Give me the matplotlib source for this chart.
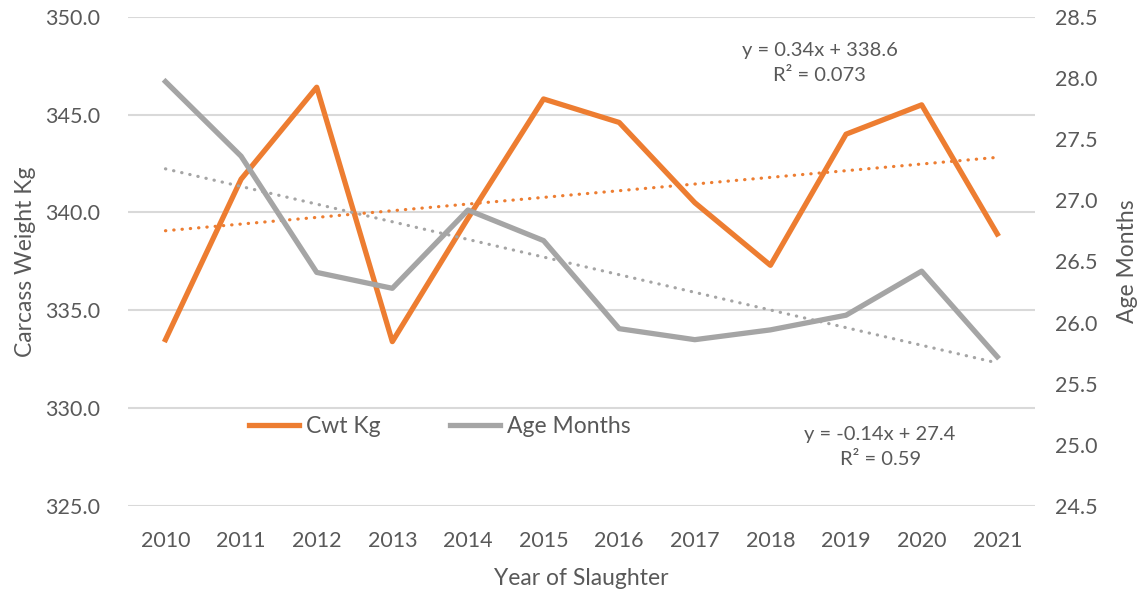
import numpy as np
import matplotlib.pyplot as plt

plt.rcParams['font.family'] = ['Lato', 'DejaVu Sans']

years = ['2010', '2011', '2012', '2013', '2014', '2015',
         '2016', '2017', '2018', '2019', '2020', '2021']
cwt_kg = [333.5, 341.7, 346.4, 333.4, 339.7, 345.8,
          344.6, 340.5, 337.3, 344.0, 345.5, 338.9]
age_months = [27.97, 27.36, 26.41, 26.28, 26.92, 26.67,
              25.95, 25.86, 25.94, 26.06, 26.42, 25.72]
eq_cwt = 'y = 0.34x + 338.6\nR² = 0.073'
eq_age = 'y = -0.14x + 27.4\nR² = 0.59'

orange = '#ED7D31'
grey = '#A5A5A5'
txt = '#595959'

fig = plt.figure(figsize=(11.45, 5.93), dpi=100)
ax = fig.add_axes([0.1115, 0.1467, 0.7925, 0.825])
ax2 = ax.twinx()

x = np.arange(len(years))

# trend lines (linear fit, like Excel)
p1 = np.polyfit(x, cwt_kg, 1)
p2 = np.polyfit(x, age_months, 1)
dots = (0, (0.1, 2.5))
ax.plot(x, np.polyval(p1, x), color=orange, lw=2.3, ls=dots,
        dash_capstyle='round', zorder=2)
ax2.plot(x, np.polyval(p2, x), color=grey, lw=2.3, ls=dots,
         dash_capstyle='round', zorder=2)

l1, = ax.plot(x, cwt_kg, color=orange, lw=3.8, label='Cwt Kg', zorder=3)
l2, = ax2.plot(x, age_months, color=grey, lw=3.8, label='Age Months', zorder=3)

ax.set_xlim(-0.5, 11.5)
ax.set_ylim(325, 350)
ax.set_yticks(np.arange(325, 350.1, 5))
ax.set_yticklabels(['%.1f' % v for v in np.arange(325, 350.1, 5)])
ax2.set_ylim(24.5, 28.5)
ax2.set_yticks(np.arange(24.5, 28.51, 0.5))
ax2.set_yticklabels(['%.1f' % v for v in np.arange(24.5, 28.51, 0.5)])
ax.set_xticks(x)
ax.set_xticklabels(years)

ax.grid(axis='y', color='#D9D9D9', lw=1.5)
ax.set_axisbelow(True)
for a in (ax, ax2):
    for s in a.spines.values():
        s.set_visible(False)
    a.tick_params(length=0, colors=txt, labelsize=15.5)
ax.tick_params(axis='y', pad=20)
ax.tick_params(axis='x', pad=18)
ax2.tick_params(axis='y', pad=14)

ax.set_xlabel('Year of Slaughter', fontsize=16.5, color=txt, labelpad=12)
ax.set_ylabel('Carcass Weight Kg', fontsize=16.5, color=txt, labelpad=6)
ax2.set_ylabel('Age Months', fontsize=16.5, color=txt, labelpad=14)

ax.text(8.65, 347.65, eq_cwt, ha='center', va='center', fontsize=14.5,
        color=txt, linespacing=1.55)
ax2.text(9.45, 24.98, eq_age, ha='center', va='center', fontsize=14.5,
         color=txt, linespacing=1.55)

leg = ax2.legend(handles=[l1, l2], loc='center', bbox_to_anchor=(0.344, 0.163),
                 ncol=2, frameon=False, fontsize=16.5, handlelength=2.2,
                 handletextpad=0.3, columnspacing=3.0)
for t in leg.get_texts():
    t.set_color(txt)

fig.savefig('out.png', dpi=100)
